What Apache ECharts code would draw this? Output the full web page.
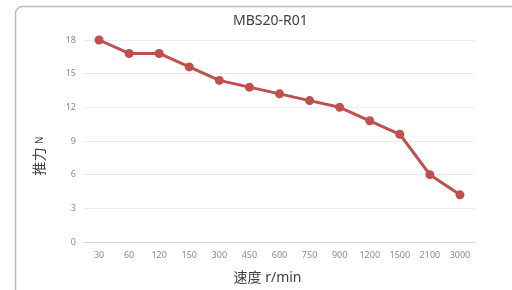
<!DOCTYPE html>
<html>
<head>
<meta charset="utf-8">
<script src="https://cdn.jsdelivr.net/npm/echarts@6/dist/echarts.min.js"></script>
<style>
  html, body { margin: 0; padding: 0; background: #fff; }
  #chart { width: 512px; height: 290px; }
</style>
</head>
<body>
<div id="chart"></div>
<script>
// speed categories (r/min) and thrust values (N)
const speeds = ["30", "60", "120", "150", "300", "450", "600", "750", "900", "1200", "1500", "2100", "3000"];
const thrust = [18, 16.8, 16.8, 15.6, 14.4, 13.8, 13.2, 12.6, 12.0, 10.8, 9.6, 6.0, 4.2];

const chart = echarts.init(document.getElementById("chart"));
const labelFont = "'Noto Sans', 'Noto Sans CJK SC', sans-serif";

chart.setOption({
  animation: false,
  title: {
    text: "MBS20-R01",
    left: 228,
    top: 9,
    textStyle: { fontSize: 14, fontWeight: "normal", color: "#404040", fontFamily: labelFont },
  },
  graphic: [
    {
      type: "rect",
      shape: { x: 15.5, y: 6.5, width: 600, height: 400, r: 7 },
      style: { fill: "none", stroke: "#bdbdbd", lineWidth: 1.5 },
      z: -1,
    },
  ],
  grid: { left: 84, right: 37, top: 40, bottom: 48 },
  xAxis: {
    type: "category",
    data: speeds,
    name: "速度 r/min",
    nameLocation: "middle",
    nameGap: 29,
    nameTextStyle: { fontSize: 14, color: "#404040", fontFamily: labelFont, padding: [0, 24, 0, 0] },
    axisLine: { lineStyle: { color: "#d9d9d9" } },
    axisTick: { show: false },
    axisLabel: { fontSize: 9, color: "#8c8c8c", margin: 9, fontFamily: labelFont },
  },
  yAxis: {
    type: "value",
    min: 0,
    max: 18,
    interval: 3,
    name: "推力 {s|N}",
    nameLocation: "middle",
    nameGap: 37,
    nameTextStyle: {
      fontSize: 14,
      color: "#404040",
      fontFamily: labelFont,
      padding: [0, 30, 0, 0],
      rich: { s: { fontSize: 10, color: "#404040", fontFamily: labelFont } },
    },
    axisLine: { show: false },
    axisTick: { show: false },
    splitLine: { lineStyle: { color: "#ebebeb" } },
    axisLabel: { fontSize: 9, color: "#8c8c8c", margin: 8, fontFamily: labelFont },
  },
  series: [
    {
      type: "line",
      data: thrust,
      symbol: "circle",
      symbolSize: 9,
      lineStyle: { color: "#c0504d", width: 3 },
      itemStyle: { color: "#c0504d" },
    },
  ],
});
</script>
</body>
</html>
